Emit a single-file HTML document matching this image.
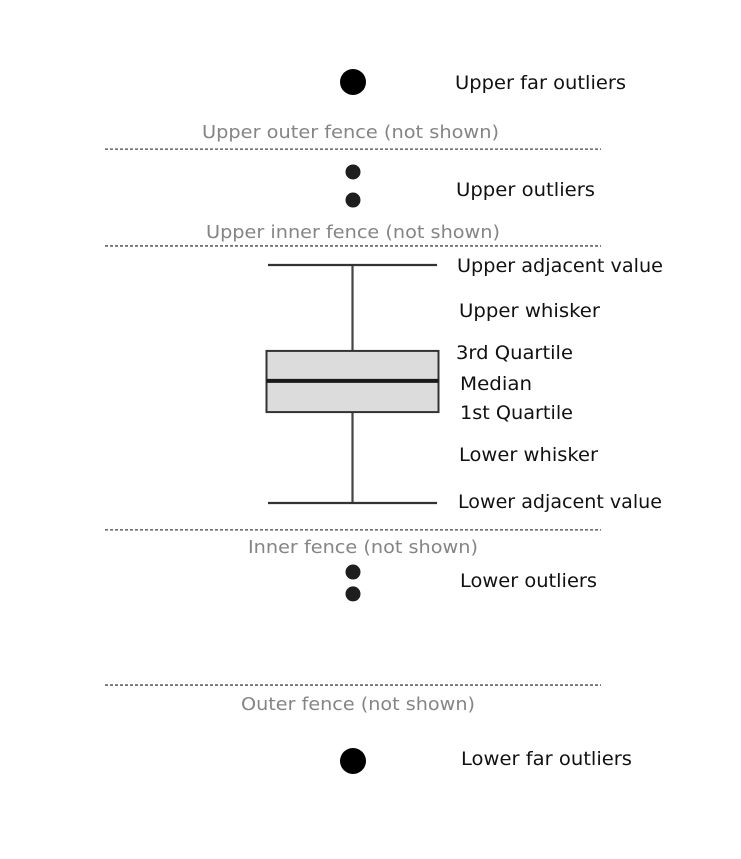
<!DOCTYPE html>
<html><head><meta charset="utf-8"><style>
html,body{margin:0;padding:0;background:#fff;}
svg{display:block;}
text{font-family:"DejaVu Sans","Liberation Sans",sans-serif;}
</style></head><body>
<svg id="chart" width="741" height="859" viewBox="0 0 741 859"></svg>
<script>
// Data (value units; lower adjacent = 0, upper adjacent = 10)
const boxStats = [3.82, 5.13, 6.39];          // q1, median, q3
const adjacentValues = [0, 10];               // lower, upper
const outlierValues = [12.73, 13.91, -2.90, -3.82];
const farOutlierValues = [17.69, -10.84];
const fenceValues = [14.87, 10.80, -1.13, -7.65]; // upper outer, upper inner, lower inner, lower outer
const fenceLabels = ["Upper outer fence (not shown)","Upper inner fence (not shown)","Inner fence (not shown)","Outer fence (not shown)"];
const partLabels = ["Upper far outliers","Upper outliers","Upper adjacent value","Upper whisker","3rd Quartile","Median","1st Quartile","Lower whisker","Lower adjacent value","Lower outliers","Lower far outliers"];

const NS="http://www.w3.org/2000/svg";
const svg=document.getElementById('chart');
function y(v){return 503 - v*23.8;}
const cx=352.5;
function mk(tag,attrs,parent){const e=document.createElementNS(NS,tag);for(const k in attrs)e.setAttribute(k,attrs[k]);(parent||svg).appendChild(e);return e;}

fenceValues.forEach((v,i)=>{
  const l=mk('line',{x1:105,x2:601,y1:y(v),y2:y(v),stroke:'#444','stroke-width':1.3,'stroke-dasharray':'3,2'});
  
  
});
const fenceLabelPos=[[202,138,297],[206,238,294],[248,553,230],[241,710,234]];
fenceLabels.forEach((s,i)=>{
  const p=fenceLabelPos[i];
  const t=mk('text',{x:p[0],y:p[1],'font-size':18,fill:'#858585',textLength:p[2],lengthAdjust:'spacingAndGlyphs'});
  t.textContent=s;
  
  
});
const wl=mk('line',{x1:cx,x2:cx,y1:y(adjacentValues[1]),y2:y(boxStats[2]),stroke:'#444','stroke-width':2.2});


const wl2=mk('line',{x1:cx,x2:cx,y1:y(boxStats[0]),y2:y(adjacentValues[0]),stroke:'#444','stroke-width':2.2});


adjacentValues.forEach(v=>{
  const c=mk('line',{x1:268,x2:437,y1:y(v),y2:y(v),stroke:'#333','stroke-width':2.2});
  
  
});
const box=mk('rect',{x:266.5,y:y(boxStats[2]),width:172,height:y(boxStats[0])-y(boxStats[2]),fill:'#dcdcdc',stroke:'#333','stroke-width':2});


const med=mk('line',{x1:266.5,x2:438.5,y1:y(boxStats[1]),y2:y(boxStats[1]),stroke:'#1a1a1a','stroke-width':4});


outlierValues.forEach(v=>{
  const c=mk('circle',{cx:cx+0.5,cy:y(v),r:7.5,fill:'#1e1e1e'});
  
  
});
farOutlierValues.forEach(v=>{
  const c=mk('circle',{cx:cx+0.5,cy:y(v),r:13,fill:'#000'});
  
  
});
const partPos=[[455,89,171],[456,196,139],[457,272,206],[459,317,141],[456,359,117],[460,390,72],[460,419,113],[459,461,139],[458,508,204],[460,587,137],[461,765,171]];
partLabels.forEach((s,i)=>{
  const p=partPos[i];
  const t=mk('text',{x:p[0],y:p[1],'font-size':19,fill:'#111',textLength:p[2],lengthAdjust:'spacingAndGlyphs'});
  t.textContent=s;
  
  
});
</script>
</body></html>
